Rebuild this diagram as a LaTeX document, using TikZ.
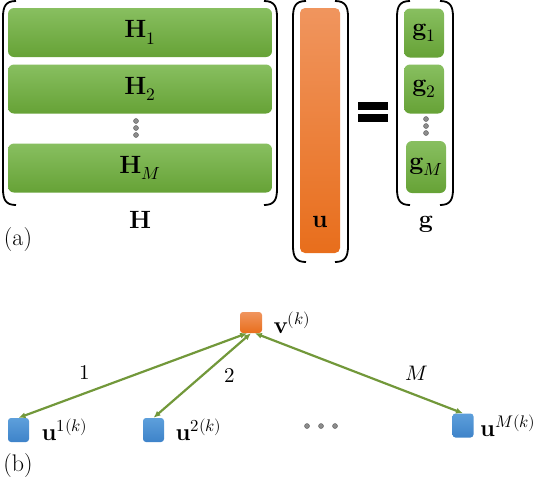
\documentclass[tikz,border=0pt]{standalone}
\usepackage{amsmath}
\usepackage{unicode-math}
\setmathfont{Latin Modern Math}
\usetikzlibrary{arrows.meta, positioning}
\definecolor{cGreenTop}{HTML}{88BF60}
\definecolor{cGreenBot}{HTML}{66A236}
\definecolor{cOrangeTop}{HTML}{F0955E}
\definecolor{cOrangeBot}{HTML}{E86E1C}
\definecolor{cBlueTop}{HTML}{5D9FDB}
\definecolor{cBlueBot}{HTML}{3E83C9}
\definecolor{cLink}{HTML}{72983A}
\tikzset{
  font=\fontsize{25}{29}\selectfont,
  bar/.style={rounded corners=6pt, inner sep=0pt, draw=none,
    top color=cGreenTop, bottom color=cGreenBot},
  hbar/.style={bar, minimum width=264pt, minimum height=49pt},
  gbar/.style={bar, minimum width=40pt, minimum height=49pt},
  ubar/.style={rounded corners=5pt, inner sep=0pt, draw=none,
    top color=cOrangeTop, bottom color=cOrangeBot,
    minimum width=40pt, minimum height=245pt},
  paren/.style={line width=1.8pt, draw=black},
  vdot/.style={circle, fill=black!45, draw=black!65, line width=0.4pt,
    minimum size=5pt, inner sep=0pt},
  vnode/.style={rounded corners=3pt, inner sep=0pt, draw=none,
    top color=cOrangeTop, bottom color=cOrangeBot,
    minimum width=22pt, minimum height=21pt},
  unode/.style={rounded corners=3pt, inner sep=0pt, draw=none,
    top color=cBlueTop, bottom color=cBlueBot,
    minimum width=21pt, minimum height=24pt},
  nodelabel/.style={font=\fontsize{24}{28}\selectfont},
  link/.style={{Latex[length=7pt,width=6pt]}-{Latex[length=7pt,width=6pt]},
    line width=2.2pt, draw=cLink},
  edgelabel/.style={font=\fontsize{21}{25}\selectfont},
  tag/.style={font=\fontsize{24}{28}\selectfont},
}

\begin{document}
\begin{tikzpicture}[x=1pt, y=-1pt]
  \useasboundingbox (0,0) rectangle (534,480);

  % ----------------------------------------------------------------
  % (a) H u = g
  % ----------------------------------------------------------------
  \foreach \xl/\xr/\yt/\yb in {3/277/1/205, 293/348/1/262, 397/453/1/205} {
    \draw[paren] (\xl+13,\yt) .. controls (\xl+3,\yt) and (\xl,\yt+5) .. (\xl,\yt+16)
      -- (\xl,\yb-16) .. controls (\xl,\yb-5) and (\xl+3,\yb) .. (\xl+13,\yb);
    \draw[paren] (\xr-13,\yt) .. controls (\xr-3,\yt) and (\xr,\yt+5) .. (\xr,\yt+16)
      -- (\xr,\yb-16) .. controls (\xr,\yb-5) and (\xr-3,\yb) .. (\xr-13,\yb);
  }

  \node[hbar] (h1) at (140,32.5) {$\mathbf{H}_1$};
  \node[hbar] (h2) at (140,89)   {$\mathbf{H}_2$};
  \node[hbar] (hM) at (140,168)  {$\mathbf{H}_M$};
  \node[vdot] (hd1) at (136,121) {};
  \node[vdot] (hd2) at (136,128) {};
  \node[vdot] (hd3) at (136,135) {};
  \node (hlabel) at (140,220) {$\mathbf{H}$};

  \node[ubar] (ubar) at (320,130.5) {};
  \node (ulabel) at (320,222) {$\mathbf{u}$};

  \fill (358,102) rectangle (388,110);
  \fill (358,114) rectangle (388,122);

  \node[gbar] (g1) at (424,33)  {$\mathbf{g}_1$};
  \node[gbar] (g2) at (424,89)  {$\mathbf{g}_2$};
  \node[gbar, minimum height=52pt] (gM) at (426,167) {$\mathbf{g}_M$};
  \node[vdot] (gd1) at (426,119) {};
  \node[vdot] (gd2) at (426,126) {};
  \node[vdot] (gd3) at (426,133) {};
  \node (glabel) at (426,224) {$\mathbf{g}$};

  \node[tag] (taga) at (18,240) {(a)};

  % ----------------------------------------------------------------
  % (b) star between v and the u's
  % ----------------------------------------------------------------
  \node[vnode] (v) at (251,322.5) {};
  \node[nodelabel, right=8pt of v] (vlabel) {$\mathbf{v}^{(k)}$};

  \node[unode] (u1) at (18.5,430) {};
  \node[unode] (u2) at (153.5,430) {};
  \node[unode] (uM) at (463,425.5) {};
  \node[nodelabel, right=9pt of u1] (u1label) {$\mathbf{u}^{1(k)}$};
  \node[nodelabel, right=8pt of u2]  (u2label) {$\mathbf{u}^{2(k)}$};
  \node[nodelabel, right=3pt of uM]  (uMlabel) {$\mathbf{u}^{M(k)}$};

  \node[vdot] (bd1) at (307,426) {};
  \node[vdot] (bd2) at (321,426) {};
  \node[vdot] (bd3) at (335,426) {};

  \draw[link] (v.250) -- (u1.north)
    node[edgelabel, pos=0.71, above=9pt] {$1$};
  \draw[link] (v.south) -- (u2.north)
    node[edgelabel, pos=0.5, right=18pt] {$2$};
  \draw[link] (v.290) -- (uM.north)
    node[edgelabel, pos=0.78, above=11pt] {$M$};

  \node[tag] (tagb) at (18,465) {(b)};

\end{tikzpicture}
\end{document}
